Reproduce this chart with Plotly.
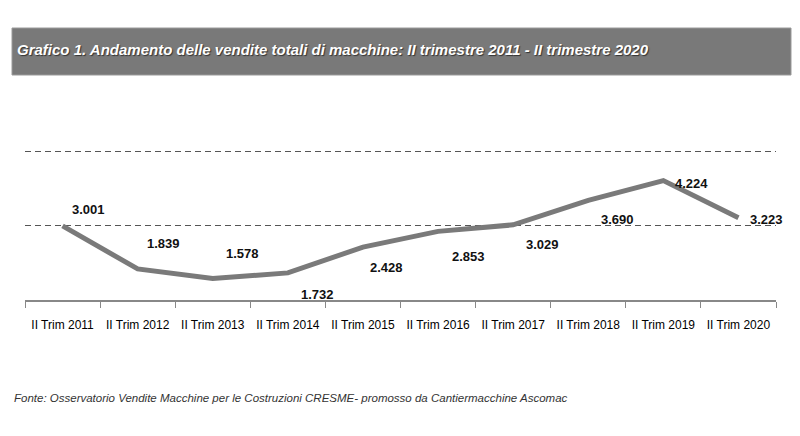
import plotly.graph_objects as go

# ---- data ----
categories = ["II Trim 2011", "II Trim 2012", "II Trim 2013", "II Trim 2014", "II Trim 2015",
              "II Trim 2016", "II Trim 2017", "II Trim 2018", "II Trim 2019", "II Trim 2020"]
sales = [3001, 1839, 1578, 1732, 2428, 2853, 3029, 3690, 4224, 3223]
grid_values = [3000, 5000]

title_text = "Grafico 1. Andamento delle vendite totali di macchine: II trimestre 2011 - II trimestre 2020"
source_text = "Fonte: Osservatorio Vendite Macchine per le Costruzioni CRESME- promosso da Cantiermacchine Ascomac"

# label offsets in pixels (xshift, yshift) relative to each point
label_shift_x = [26, 26, 30, 30, 24, 30, 29, 29, 28, 28]
label_shift_y = [16, 25, 25, -22, -20, -25, -20, -19, -3, -2]

FONT = "Liberation Sans, Arial, sans-serif"


def it_fmt(v):
    return f"{v:,}".replace(",", ".")


fig = go.Figure()
fig.add_trace(go.Scatter(
    x=categories, y=sales, mode="lines",
    line=dict(color="#7a7a7a", width=5),
    hoverinfo="skip", showlegend=False,
))

annotations = []
for c, v, dx, dy in zip(categories, sales, label_shift_x, label_shift_y):
    annotations.append(dict(
        x=c, y=v, xref="x", yref="y", text=it_fmt(v), showarrow=False,
        xshift=dx, yshift=dy,
        font=dict(family=FONT, size=13, color="#111111", weight="bold"),
    ))

# plot area: x 25..776 px, y 150..300 px
PL, PR, PT, PB = 25, 776, 150, 300
W, H = PR - PL, PB - PT


def px_x(x):
    return (x - PL) / W


def px_y(y):
    return (PB - y) / H


annotations.append(dict(
    x=px_x(15), y=px_y(50), xref="paper", yref="paper", xanchor="left", yanchor="middle",
    text=title_text, showarrow=False,
    font=dict(family=FONT, size=15, color="#ffffff", weight="bold", style="italic",
              shadow="1px 1px 1px #333"),
))
annotations.append(dict(
    x=px_x(12), y=px_y(398), xref="paper", yref="paper", xanchor="left", yanchor="middle",
    text=source_text, showarrow=False,
    font=dict(family=FONT, size=11.5, color="#333333", style="italic"),
))

shapes = [dict(
    type="rect", xref="paper", yref="paper",
    x0=px_x(12), x1=px_x(791), y0=px_y(75), y1=px_y(28),
    fillcolor="#797979", line=dict(color="#9a9a9a", width=1), layer="above",
)]

fig.update_layout(
    width=800, height=436,
    margin=dict(l=PL, r=800 - PR, t=PT, b=436 - PB, pad=0),
    paper_bgcolor="white", plot_bgcolor="white",
    annotations=annotations, shapes=shapes,
    showlegend=False,
    xaxis=dict(
        type="category", tickson="boundaries", ticks="outside", ticklen=6,
        tickcolor="#888888", tickwidth=1, tickangle=0,
        showline=True, linecolor="#888888", linewidth=1.5,
        showgrid=False, ticklabelstandoff=13,
        tickfont=dict(family=FONT, size=12, color="#000000"),
        range=[-0.5, len(categories) - 0.5],
    ),
    yaxis=dict(
        range=[1000, 5050], tickvals=grid_values, showticklabels=False,
        showgrid=True, gridcolor="#555555", gridwidth=1, griddash="6px,4px",
        zeroline=False, showline=False, ticks="",
    ),
)

fig.write_html("out.html")
